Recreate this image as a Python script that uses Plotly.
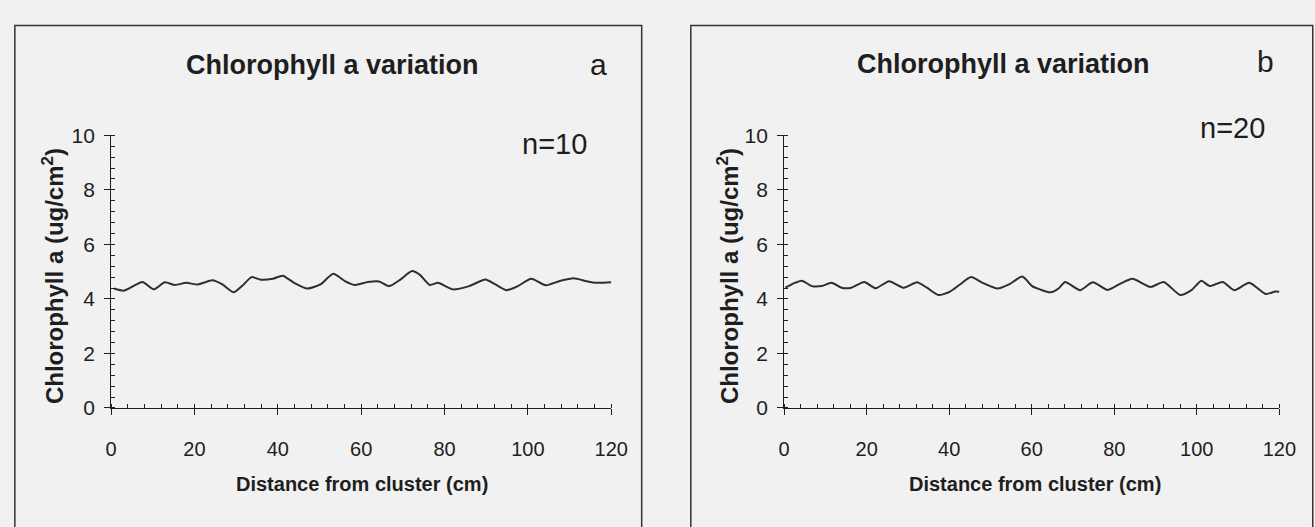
import plotly.graph_objects as go

# Panel a (n=10)
dist_a = [0.7, 3.1, 7.5, 10.2, 12.9, 15.3, 18.0, 20.8, 24.3, 26.7, 29.4, 31.4, 33.7, 35.7, 38.8, 41.2,
          43.9, 47.1, 50.2, 53.3, 56.1, 58.4, 61.6, 64.3, 66.7, 69.4, 72.2, 74.1, 76.5, 78.4, 82.0,
          85.9, 89.8, 92.2, 94.9, 97.6, 100.8, 104.3, 107.5, 111.0, 114.1, 116.5, 120.0]
chl_a = [4.38, 4.30, 4.62, 4.35, 4.61, 4.51, 4.59, 4.53, 4.68, 4.53, 4.24, 4.47, 4.80, 4.71, 4.74, 4.85,
         4.59, 4.38, 4.53, 4.92, 4.65, 4.51, 4.62, 4.64, 4.47, 4.71, 5.02, 4.88, 4.51, 4.59, 4.35,
         4.47, 4.71, 4.53, 4.32, 4.47, 4.74, 4.50, 4.65, 4.76, 4.65, 4.59, 4.61]

# Panel b (n=20)
dist_b = [0.3, 2.3, 4.3, 6.7, 9.1, 11.5, 13.9, 16.3, 19.4, 22.2, 25.4, 29.0, 32.2, 34.6, 37.4, 40.2,
          42.6, 45.3, 48.1, 51.7, 54.5, 57.7, 60.1, 62.0, 64.5, 66.5, 68.1, 71.7, 74.8, 78.4, 81.6,
          84.4, 88.8, 92.0, 96.0, 98.7, 101.1, 103.1, 106.3, 109.1, 112.7, 116.7, 119.0, 120.0]
chl_b = [4.41, 4.57, 4.67, 4.47, 4.47, 4.59, 4.41, 4.41, 4.62, 4.39, 4.65, 4.41, 4.61, 4.41, 4.14, 4.27,
         4.53, 4.80, 4.59, 4.38, 4.53, 4.82, 4.47, 4.35, 4.24, 4.38, 4.62, 4.32, 4.61, 4.33, 4.57,
         4.74, 4.44, 4.62, 4.14, 4.32, 4.67, 4.47, 4.62, 4.32, 4.59, 4.18, 4.27, 4.26]

x_ticks = [0, 20, 40, 60, 80, 100, 120]
y_ticks = [0, 2, 4, 6, 8, 10]
panel_titles = ["Chlorophyll a variation", "Chlorophyll a variation"]
panel_letters = ["a", "b"]
panel_n = ["n=10", "n=20"]
x_title = "Distance from cluster (cm)"
y_title = "Chlorophyll a (ug/cm<sup>2</sup>)"

W, H = 1315, 527
BG = "#f1f1f1"
INK = "#1e1e1e"
SANS = "Liberation Sans, Arial, sans-serif"

def px(x):
    return x / W

def py(y):
    return 1 - y / H

fig = go.Figure()
for xs, ys, xa, ya in [(dist_a, chl_a, "x", "y"), (dist_b, chl_b, "x2", "y2")]:
    fig.add_trace(go.Scatter(x=xs, y=ys, mode="lines",
                             line=dict(color="#2e2e2e", width=2, shape="spline", smoothing=0.6),
                             xaxis=xa, yaxis=ya, showlegend=False, hoverinfo="skip"))

ydom = [py(414), py(129)]
common_x = dict(range=[0, 120], tickvals=x_ticks, showgrid=False, zeroline=False, showline=True,
                linecolor=INK, linewidth=1.2, ticks="outside", ticklen=6, tickwidth=1.2, tickcolor=INK,
                tickfont=dict(family=SANS, size=20, color=INK), ticklabelstandoff=17,
                minor=dict(dtick=4, ticks="inside", ticklen=4, tickwidth=1, tickcolor=INK))
common_y = dict(range=[0, 10], tickvals=y_ticks, showgrid=False, zeroline=False, showline=True,
                linecolor=INK, linewidth=1.2, ticks="outside", ticklen=6, tickwidth=1.2, tickcolor=INK,
                tickfont=dict(family=SANS, size=21, color=INK), ticklabelstandoff=5,
                minor=dict(dtick=0.4, ticks="inside", ticklen=4, tickwidth=1, tickcolor=INK))

fig.update_layout(
    width=W, height=H, margin=dict(l=0, r=0, t=0, b=0),
    paper_bgcolor=BG, plot_bgcolor=BG,
    xaxis=dict(domain=[px(107), px(616)], anchor="y", **common_x),
    yaxis=dict(domain=ydom, anchor="x", **common_y),
    xaxis2=dict(domain=[px(792), px(1296)], anchor="y2", **common_x),
    yaxis2=dict(domain=ydom, anchor="x2", **common_y),
)

# panel frames
fig.add_shape(type="rect", xref="paper", yref="paper", x0=px(9), x1=px(647), y0=py(540), y1=py(14),
              line=dict(color="#333333", width=1.5), fillcolor="rgba(0,0,0,0)", layer="below")
fig.add_shape(type="rect", xref="paper", yref="paper", x0=px(697), x1=px(1330), y0=py(540), y1=py(14),
              line=dict(color="#333333", width=1.5), fillcolor="rgba(0,0,0,0)", layer="below")

def ann(text, x, y, size, bold=False, angle=0):
    t = f"<b>{text}</b>" if bold else text
    fig.add_annotation(text=t, x=px(x), y=py(y), xref="paper", yref="paper", showarrow=False,
                       xanchor="center", yanchor="middle", textangle=angle,
                       font=dict(family=SANS, size=size, color=INK))

# panel a
ann(panel_titles[0], 332, 55, 27, bold=True)
ann(panel_letters[0], 603, 55, 30)
ann(panel_n[0], 558, 138, 29)
ann(y_title, 48, 276, 24, bold=True, angle=-90)
ann(x_title, 362, 494, 20, bold=True)
# panel b
ann(panel_titles[1], 1015, 54, 27, bold=True)
ann(panel_letters[1], 1282, 52, 30)
ann(panel_n[1], 1248, 121, 29)
ann(y_title, 735, 276, 24, bold=True, angle=-90)
ann(x_title, 1047, 494, 20, bold=True)

fig.write_html("out.html", config={"displayModeBar": False},
               post_script="document.body.style.margin='0';")
